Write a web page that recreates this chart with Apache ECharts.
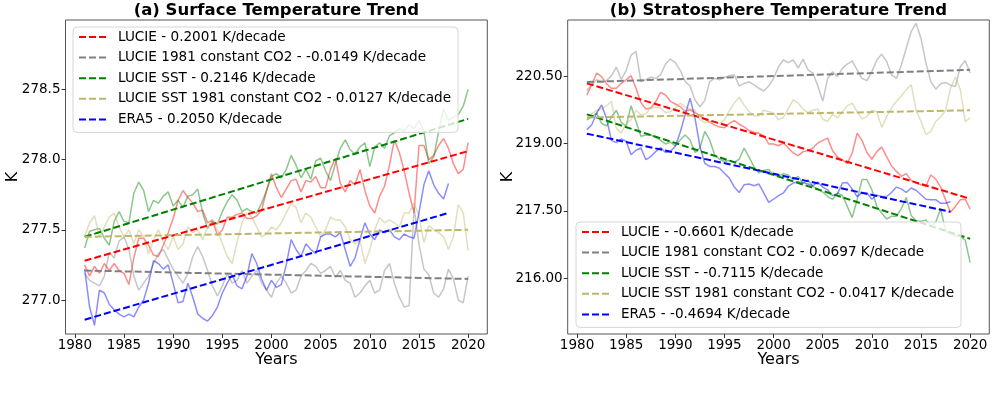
<!DOCTYPE html>
<html><head><meta charset="utf-8">
<script src="https://cdn.jsdelivr.net/npm/echarts@6/dist/echarts.min.js"></script>
<style>html,body{margin:0;padding:0;background:#fff}#c{width:997px;height:396px}</style>
</head><body><div id="c"></div>
<script>
// half-year sampling grid 1981.0 .. 2020.0
const years = Array.from({length: 79}, (_, i) => 1981 + i * 0.5);
const xTicks = [1980, 1985, 1990, 1995, 2000, 2005, 2010, 2015, 2020];
const yTicksA = [277.0, 277.5, 278.0, 278.5];
const yTicksB = [216.0, 217.5, 219.0, 220.5];

// (a) Surface temperature
const a_lucie = [
277.25,277.17,277.24,277.19,277.26,277.21,277.26,277.21,277.19,277.11,
277.30,277.44,277.44,277.39,277.32,277.31,277.39,277.48,277.58,277.71,
277.78,277.73,277.69,277.63,277.64,277.55,277.57,277.46,277.50,277.59,
277.59,277.61,277.62,277.58,277.58,277.60,277.64,277.78,277.90,277.80,
277.73,277.79,277.85,277.86,277.77,277.85,277.84,277.88,277.80,277.80,
277.93,278.01,277.83,277.77,277.85,277.82,277.93,277.78,277.67,277.62,
277.74,277.81,277.96,278.14,278.05,277.92,277.76,277.62,278.10,278.10,
278.00,278.03,278.10,278.15,278.08,277.97,277.90,277.93,278.12];
const a_lucieCO2 = [
277.19,277.14,277.12,277.10,277.17,277.34,277.30,277.42,277.45,277.36,
277.17,277.07,277.12,277.17,277.26,277.33,277.36,277.29,277.22,277.17,
277.12,277.19,277.31,277.38,277.31,277.21,277.10,277.03,277.10,277.19,
277.12,277.14,277.21,277.12,277.17,277.21,277.12,277.07,277.02,277.12,
277.17,277.12,277.05,277.07,277.17,277.21,277.26,277.24,277.19,277.21,
277.24,277.16,277.21,277.14,277.12,277.02,277.05,277.10,277.14,277.05,
277.07,277.21,277.26,277.12,277.02,276.95,276.96,277.66,277.40,277.22,
277.18,277.05,277.02,277.08,277.22,277.15,277.00,276.98,277.17];
const a_sst = [
277.37,277.49,277.50,277.51,277.44,277.39,277.56,277.63,277.56,277.55,
277.76,277.84,277.78,277.63,277.71,277.69,277.74,277.77,277.67,277.71,
277.66,277.74,277.75,277.79,277.62,277.51,277.56,277.54,277.63,277.70,
277.75,277.71,277.63,277.65,277.63,277.62,277.69,277.78,277.88,277.90,
277.87,277.93,278.03,277.96,277.87,277.93,277.86,277.99,278.01,277.92,
277.85,277.97,278.08,278.14,278.07,278.04,278.09,278.12,277.95,278.09,
278.12,278.08,278.17,278.19,278.22,278.20,278.25,278.22,278.28,278.20,
277.97,278.02,278.20,278.36,278.28,278.30,278.32,278.38,278.50];
const a_sstCO2 = [
277.45,277.55,277.60,277.45,277.52,277.59,277.62,277.52,277.45,277.50,
277.40,277.50,277.45,277.33,277.43,277.50,277.41,277.36,277.45,277.36,
277.40,277.52,277.48,277.50,277.43,277.52,277.57,277.50,277.40,277.31,
277.26,277.41,277.55,277.62,277.59,277.52,277.45,277.47,277.52,277.50,
277.55,277.62,277.69,277.66,277.55,277.62,277.59,277.52,277.45,277.50,
277.59,277.57,277.57,277.52,277.43,277.40,277.43,277.26,277.36,277.50,
277.59,277.55,277.57,277.55,277.52,277.62,277.62,277.69,277.60,277.41,
277.53,277.50,277.48,277.45,277.36,277.45,277.68,277.62,277.35];
const a_era5 = [
277.22,276.95,276.82,277.07,277.05,276.97,276.93,276.90,276.88,276.90,
276.88,276.95,277.00,277.12,277.28,277.26,277.22,277.25,277.12,276.98,
276.99,277.12,277.02,276.90,276.87,276.85,276.89,276.95,277.05,277.12,
277.18,277.10,277.08,277.17,277.33,277.26,277.15,277.07,277.14,277.09,
277.11,277.25,277.43,277.36,277.31,277.40,277.36,277.33,277.45,277.47,
277.47,277.45,277.48,277.36,277.24,277.30,277.43,277.55,277.47,277.43,
277.50,277.48,277.50,277.45,277.43,277.47,277.45,277.44,277.62,277.82,
277.92,277.82,277.76,277.72,277.83];

// (b) Stratosphere temperature
const b_lucie = [
220.08,220.31,220.57,220.49,220.33,220.23,220.23,220.34,220.42,220.51,
220.23,219.91,219.77,219.79,219.93,220.14,220.08,219.94,219.88,219.82,
219.72,219.75,219.69,219.62,219.54,219.48,219.41,219.37,219.35,219.45,
219.51,219.43,219.37,219.29,219.25,219.23,219.17,218.99,218.99,218.95,
219.01,218.90,218.79,218.73,218.82,218.84,218.90,219.01,219.07,219.12,
218.84,218.70,218.64,218.55,218.79,219.23,219.07,218.80,218.65,218.82,
218.92,218.71,218.50,218.38,218.27,218.33,218.18,218.12,218.08,218.05,
218.30,218.21,218.03,217.75,217.47,217.60,217.75,217.76,217.54];
const b_lucieCO2 = [
220.18,220.31,220.42,220.36,220.40,220.51,220.70,220.43,220.63,220.97,
221.05,220.38,220.42,220.48,220.45,220.53,220.77,220.88,220.80,220.63,
220.38,220.28,219.97,219.82,219.96,220.38,220.45,220.42,220.47,220.51,
220.53,220.28,220.34,220.37,220.31,220.23,220.17,220.28,220.45,220.71,
220.86,220.80,220.86,220.68,220.88,220.64,220.57,220.28,219.94,220.45,
220.60,220.49,220.68,220.77,220.84,220.64,220.45,220.40,220.60,220.86,
220.99,220.83,220.53,220.45,220.75,221.12,221.49,221.68,221.34,220.79,
220.38,220.21,220.33,220.36,220.30,220.27,220.71,220.85,220.57];
const b_sst = [
219.53,219.59,219.68,219.45,219.39,219.59,219.74,219.47,219.39,219.84,
219.49,219.16,219.19,219.19,219.14,219.07,218.99,219.03,218.95,219.08,
219.19,219.08,218.80,218.90,219.27,219.08,218.75,218.65,218.60,218.62,
218.58,218.65,218.90,218.70,218.48,218.35,218.40,218.42,218.30,218.27,
218.33,218.30,218.19,218.27,218.12,218.19,218.05,217.98,217.92,217.82,
217.76,217.90,217.84,217.60,217.35,217.75,218.20,218.20,217.97,217.60,
217.45,217.32,217.38,217.38,217.55,217.80,217.40,217.28,217.27,217.30,
217.15,217.25,217.55,217.05,216.98,216.95,216.92,216.85,216.35];
const b_sstCO2 = [
219.53,219.66,219.74,219.77,219.84,219.94,219.34,219.23,219.44,219.53,
219.74,219.64,219.66,219.79,219.81,219.79,219.69,219.71,219.79,219.90,
219.81,219.77,219.74,219.53,219.47,219.48,219.48,219.44,219.53,219.73,
219.90,220.03,219.86,219.71,219.62,219.62,219.74,219.71,219.68,219.53,
219.58,219.79,219.97,219.90,219.77,219.69,219.74,219.77,219.54,219.49,
219.65,219.57,219.71,219.84,219.90,219.71,219.55,219.60,219.74,219.71,
219.36,219.60,219.79,219.94,220.06,220.20,220.31,219.75,219.49,219.20,
219.27,219.49,219.59,219.74,220.23,220.48,220.20,219.49,219.57];
const b_era5 = [
219.31,219.42,219.68,219.86,219.56,219.07,219.02,219.10,219.05,218.75,
218.85,218.90,218.64,218.71,218.82,218.91,218.80,218.82,218.94,219.25,
219.64,220.01,219.57,218.94,218.56,218.49,218.49,218.45,218.34,218.23,
218.03,217.91,218.08,218.10,218.06,218.10,217.90,217.69,217.76,217.84,
217.90,218.05,218.12,218.15,218.13,218.10,218.06,218.14,218.03,217.97,
217.84,217.88,218.12,218.13,217.99,217.82,217.90,217.90,217.76,217.85,
217.82,217.82,217.91,218.03,217.99,217.91,218.01,217.96,217.86,217.76,
217.75,217.75,217.67,217.67,217.71];

// linear trend lines: [label, start year, end year, start value, end value]
const a_trends = [
  ['LUCIE - 0.2001 K/decade', 1981, 2020, 277.28, 278.06],
  ['LUCIE 1981 constant CO2 - -0.0149 K/decade', 1981, 2020, 277.21, 277.15],
  ['LUCIE SST - 0.2146 K/decade', 1981, 2020, 277.45, 278.29],
  ['LUCIE SST 1981 constant CO2 - 0.0127 K/decade', 1981, 2020, 277.45, 277.50],
  ['ERA5 - 0.2050 K/decade', 1981, 2018, 276.86, 277.62]
];
const b_trends = [
  ['LUCIE - -0.6601 K/decade', 1981, 2020, 220.34, 217.77],
  ['LUCIE 1981 constant CO2 - 0.0697 K/decade', 1981, 2020, 220.37, 220.64],
  ['LUCIE SST - -0.7115 K/decade', 1981, 2020, 219.65, 216.88],
  ['LUCIE SST 1981 constant CO2 - 0.0417 K/decade', 1981, 2020, 219.58, 219.74],
  ['ERA5 - -0.4694 K/decade', 1981, 2018, 219.22, 217.48]
];
const colors = ['#ff0000', '#808080', '#008000', '#bdb76b', '#0000ff'];

const FONT = 'DejaVu Sans';
const series = [];
function addPanel(raws, trends, idx) {
  raws.forEach((vals, k) => {
    series.push({
      type: 'line', name: 'raw' + idx + '_' + k, xAxisIndex: idx, yAxisIndex: idx,
      data: vals.map((v, i) => [years[i], v]),
      symbol: 'none', silent: true, z: 1,
      lineStyle: { color: colors[k], width: 1.5, opacity: 0.45 }
    });
  });
  trends.forEach((t, k) => {
    series.push({
      type: 'line', name: t[0], xAxisIndex: idx, yAxisIndex: idx,
      data: [[t[1], t[3]], [t[2], t[4]]],
      symbol: 'none', silent: true, z: 3,
      itemStyle: { color: colors[k] },
      lineStyle: { color: colors[k], width: 2, type: [7, 3] }
    });
  });
}
addPanel([a_lucie, a_lucieCO2, a_sst, a_sstCO2, a_era5], a_trends, 0);
addPanel([b_lucie, b_lucieCO2, b_sst, b_sstCO2, b_era5], b_trends, 1);

function xAx(idx) {
  return {
    type: 'value', gridIndex: idx, min: 1979.05, max: 2021.95,
    splitLine: { show: false }, axisLine: { show: false },
    axisTick: { show: true, length: 4, lineStyle: { color: '#333' }, customValues: xTicks },
    axisLabel: { customValues: xTicks, margin: 4, fontSize: 13.5, fontFamily: FONT, color: '#000',
      formatter: v => String(Math.round(v)) },
    name: 'Years', nameLocation: 'middle', nameGap: 18, nameMoveOverlap: false,
    nameTextStyle: { fontSize: 16, fontFamily: FONT, color: '#000' }
  };
}
function yAx(idx, min, max, ticks, dec, gap) {
  return {
    type: 'value', gridIndex: idx, min: min, max: max,
    splitLine: { show: false }, axisLine: { show: false },
    axisTick: { show: true, length: 4, lineStyle: { color: '#333' }, customValues: ticks },
    axisLabel: { customValues: ticks, margin: 5, fontSize: 13.5, fontFamily: FONT, color: '#000',
      formatter: v => Number(v).toFixed(dec) },
    name: 'K', nameLocation: 'middle', nameGap: gap, nameRotate: 90, nameMoveOverlap: false,
    nameTextStyle: { fontSize: 16, fontFamily: FONT, color: '#000' }
  };
}
function legendOf(trends, left, top) {
  return {
    data: trends.map(t => t[0]), orient: 'vertical', left: left, top: top,
    itemWidth: 29, itemHeight: 14, itemGap: 6.6, padding: [3, 7, 6, 5],
    selectedMode: false,
    itemStyle: { opacity: 0 },
    backgroundColor: 'rgba(255,255,255,0.8)', borderColor: '#d6d6d6', borderWidth: 1, borderRadius: 4,
    textStyle: { fontSize: 13.6, fontFamily: FONT, color: '#000', padding: [0, 0, 0, 5] }
  };
}

const chart = echarts.init(document.getElementById('c'), null, { renderer: 'canvas' });
chart.setOption({
  animation: false,
  backgroundColor: '#fff',
  grid: [
    { left: 65.5, top: 20, width: 421.8, height: 314, show: true, borderColor: '#555', borderWidth: 1, backgroundColor: 'transparent' },
    { left: 567.7, top: 20, width: 421.6, height: 314, show: true, borderColor: '#555', borderWidth: 1, backgroundColor: 'transparent' }
  ],
  xAxis: [xAx(0), xAx(1)],
  yAxis: [yAx(0, 276.758, 278.994, yTicksA, 1, 45), yAx(1, 214.76, 221.75, yTicksB, 2, 52)],
  legend: [legendOf(a_trends, 73, 27), legendOf(b_trends, 576, 222)],
  graphic: [
    { type: 'text', x: 276.4, y: 11, style: { text: '(a) Surface Temperature Trend', textAlign: 'center', textVerticalAlign: 'middle', fontSize: 16.5, fontWeight: 'bold', fontFamily: FONT, fill: '#000' } },
    { type: 'text', x: 778.5, y: 11, style: { text: '(b) Stratosphere Temperature Trend', textAlign: 'center', textVerticalAlign: 'middle', fontSize: 16.5, fontWeight: 'bold', fontFamily: FONT, fill: '#000' } }
  ],
  series: series
});
</script>
</body></html>
